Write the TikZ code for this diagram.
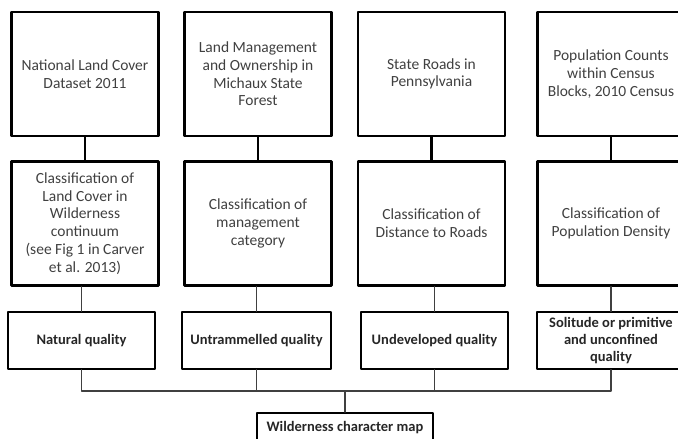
\documentclass[tikz,border=0pt]{standalone}
\usepackage{fontspec}
\setmainfont{Carlito}
\usetikzlibrary{positioning}
\begin{document}
\begin{tikzpicture}[x=1pt, y=-1pt, line join=round, line cap=round,
	srcbox/.style={draw, line width=2.6pt, minimum width=147pt, minimum height=124pt, align=center, inner sep=2pt, text=black!75, font=\fontsize{15.5}{17.7}\selectfont},
	qualbox/.style={draw, line width=1.8pt, minimum width=147pt, minimum height=57pt, align=center, inner sep=2pt, text=black!85, font=\bfseries\fontsize{14.5}{17}\selectfont},
	thick link/.style={line width=2.6pt, line cap=butt},
	thin link/.style={line width=1.8pt, draw=black!75}]
	\def\xmin{0}\def\xmax{678}\def\ymin{0}\def\ymax{439}
	\useasboundingbox (\xmin,\ymin) rectangle (\xmax,\ymax);
	\clip (\xmin,\ymin) rectangle (\xmax,\ymax);
	\path
	(0,391) coordinate (B)
	;
	% data sources
	\node[srcbox] (d1) at (85,74) {National Land Cover\\Dataset 2011};
	\node[srcbox] (d2) at (258,74) {Land Management\\and Ownership in\\Michaux State\\Forest};
	\node[srcbox] (d3) at (431.5,74) {State Roads in\\Pennsylvania};
	\node[srcbox] (d4) at (611,74) {Population Counts\\within Census\\Blocks, 2010 Census};
	% classifications
	\node[srcbox] (c1) at (85,223.5) {Classification of\\Land Cover in\\Wilderness\\continuum\\(see Fig 1 in Carver\\et al. 2013)};
	\node[srcbox] (c2) at (258,223.5) {Classification of\\management\\category};
	\node[srcbox] (c3) at (431.5,223.5) {Classification of\\Distance to Roads};
	\node[srcbox] (c4) at (611,223.5) {Classification of\\Population Density};
	% qualities
	\node[qualbox] (q1) at (81.5,340.5) {Natural quality};
	\node[qualbox, minimum width=149pt] (q2) at (256.5,340.5) {Untrammelled quality};
	\node[qualbox] (q3) at (434.5,340.5) {Undeveloped quality};
	\node[qualbox, minimum width=148pt] (q4) at (611,340.5) {Solitude or primitive\\and unconfined\\quality};
	\node[qualbox, minimum width=176pt, minimum height=30pt, anchor=north] (w) at (345,412) {Wilderness character map};
	% links
	\foreach \i in {1,2,3,4}
	{
		\draw[thick link] (d\i.south) -- (c\i.north);
		\draw[thin link] (q\i.north) -- (q\i.north |- c\i.south);
	}
	\draw[thin link] (q1.south) |- (B -| w.north) -| (q4.south);
	\draw[thin link] (q2.south) -- (q2.south |- B);
	\draw[thin link] (q3.south) -- (q3.south |- B);
	\draw[thin link] (B -| w.north) -- (w.north);
\end{tikzpicture}
\end{document}
